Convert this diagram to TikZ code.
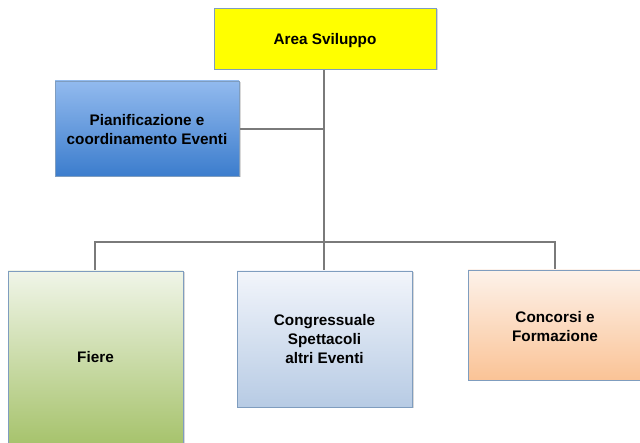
\documentclass[tikz,border=0pt]{standalone}
\usepackage{fontspec}
\setmainfont{Liberation Sans}
\usetikzlibrary{shadows}
\definecolor{boxedge}{HTML}{7F9DBF}
\definecolor{linkgray}{HTML}{7A7A7A}
\tikzset{
  x=1pt, y=-1pt,
  boxfont/.style={font=\bfseries\fontsize{15.3}{19}\selectfont},
  orgbox/.style={draw=boxedge, line width=0.9pt, align=center, boxfont,
    inner sep=0pt,
    drop shadow={shadow xshift=1.5pt, shadow yshift=-1.5pt, opacity=0.3}},
  link/.style={draw=linkgray, line width=2.3pt}
}
\begin{document}
\begin{tikzpicture}
  \useasboundingbox (0,0) rectangle (640,443);
  \clip (0,0) rectangle (640,443);
  \fill[white] (0,0) rectangle (640,443);

  % connectors (drawn first, boxes cover their ends)
  \coordinate (top) at (324,69);
  \coordinate (bus) at (324,242);
  \coordinate (busL) at (95,242);
  \coordinate (busR) at (555,242);
  \draw[link] (top) -- (bus);
  \draw[link] (239,129) -- (324,129);
  \draw[link] (95,272) -- (busL) -- (busR) -- (555,271);
  \draw[link] (bus) -- (324,272);

  % top of the chart
  \node[orgbox, fill={rgb,255:red,255;green,255;blue,0},
        minimum width=222pt, minimum height=61pt] (area) at (325,38.5) {};
  \node[boxfont] (areatext) at (325,40.5) {Area Sviluppo};

  \node[orgbox, top color={rgb,255:red,146;green,186;blue,238},
        bottom color={rgb,255:red,60;green,125;blue,205},
        minimum width=184pt, minimum height=95pt] (plan) at (147,128.5) {};
  \node[boxfont, align=center] (plantext) at (147,130)
        {Pianificazione e\\coordinamento Eventi};

  % lower level
  \node[orgbox, top color={rgb,255:red,240;green,245;blue,232},
        bottom color={rgb,255:red,155;green,187;blue,89},
        minimum width=175pt, minimum height=200pt] (fiere) at (95.5,371) {};
  \node[boxfont] (fieretext) at (95.5,357) {Fiere};

  \node[orgbox, top color={rgb,255:red,242;green,245;blue,251},
        bottom color={rgb,255:red,183;green,203;blue,228},
        minimum width=175pt, minimum height=136pt] (congr) at (324.5,339)
        {Congressuale\\Spettacoli\\altri Eventi};

  \node[orgbox, top color={rgb,255:red,253;green,242;blue,234},
        bottom color={rgb,255:red,250;green,195;blue,150},
        minimum width=174pt, minimum height=110pt] (conc) at (555,325) {};
  \node[boxfont, align=center] (conctext) at (555,326.5)
        {Concorsi e\\Formazione};
\end{tikzpicture}
\end{document}
